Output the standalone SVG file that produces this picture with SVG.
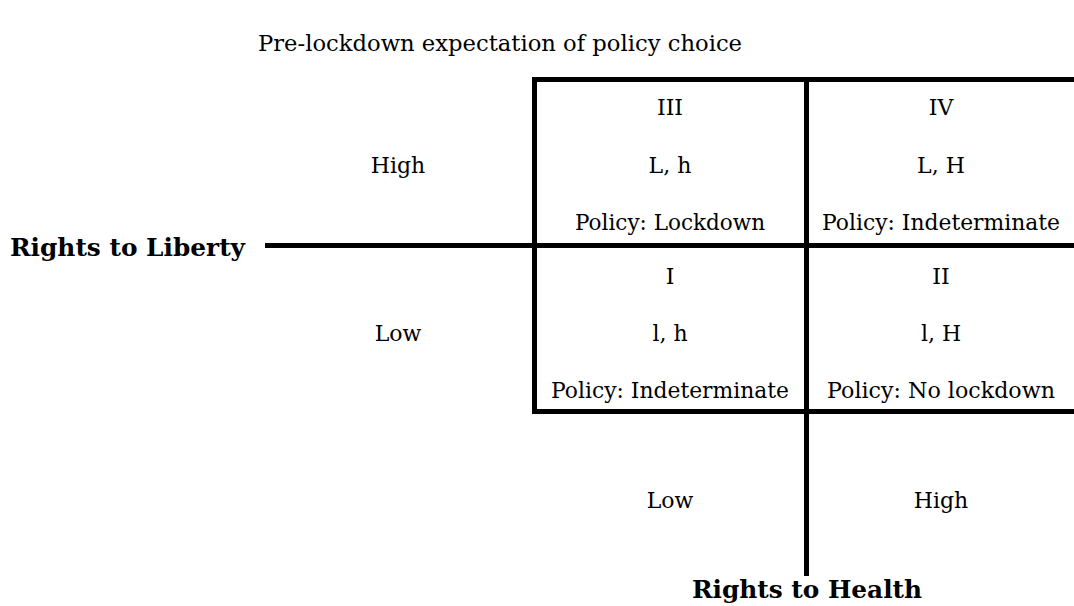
<svg xmlns="http://www.w3.org/2000/svg" width="1074" height="606" viewBox="0 0 1074 606">
<style>
text{font-family:"DejaVu Serif","Liberation Serif",serif;font-size:22px;fill:#000;text-anchor:middle}
.b{font-weight:bold;font-size:24px}
.ln{stroke:#000;stroke-width:5;fill:none}
</style>
<rect width="1074" height="606" fill="#fff"/>
<g id="title"><text x="500" y="51" textLength="484" lengthAdjust="spacingAndGlyphs">Pre-lockdown expectation of policy choice</text></g>
<g id="connectors">
<line class="ln" x1="532" y1="79.5" x2="1074" y2="79.5"/>
<line class="ln" x1="265" y1="245.5" x2="1074" y2="245.5"/>
<line class="ln" x1="532" y1="411.5" x2="1074" y2="411.5"/>
<line class="ln" x1="534.5" y1="77" x2="534.5" y2="414"/>
<line class="ln" x1="806.5" y1="77" x2="806.5" y2="576"/>
</g>
<g id="cell-III"><text x="670" y="115">III</text><text x="670" y="173">L, h</text><text x="670" y="230" textLength="190" lengthAdjust="spacingAndGlyphs">Policy: Lockdown</text></g>
<g id="cell-IV"><text x="941" y="115">IV</text><text x="941" y="173">L, H</text><text x="941" y="230" textLength="238" lengthAdjust="spacingAndGlyphs">Policy: Indeterminate</text></g>
<g id="cell-I"><text x="670" y="284">I</text><text x="670" y="341">l, h</text><text x="670" y="398" textLength="238" lengthAdjust="spacingAndGlyphs">Policy: Indeterminate</text></g>
<g id="cell-II"><text x="941" y="284">II</text><text x="941" y="341">l, H</text><text x="941" y="398" textLength="228" lengthAdjust="spacingAndGlyphs">Policy: No lockdown</text></g>
<g id="liberty-axis"><text x="398" y="173">High</text><text x="398" y="341">Low</text><text class="b" x="127.5" y="256" textLength="235" lengthAdjust="spacingAndGlyphs">Rights to Liberty</text></g>
<g id="health-axis"><text x="670" y="508">Low</text><text x="941" y="508">High</text><text class="b" x="807" y="598" textLength="230" lengthAdjust="spacingAndGlyphs">Rights to Health</text></g>
</svg>
